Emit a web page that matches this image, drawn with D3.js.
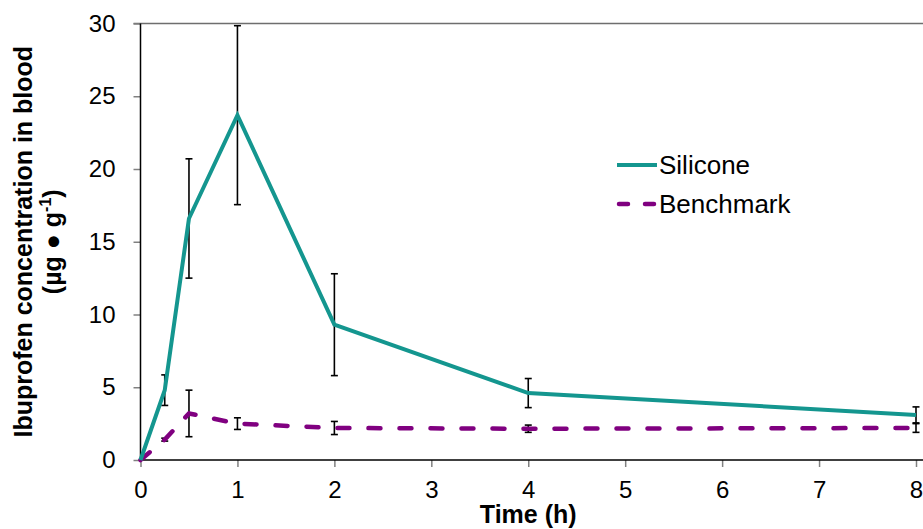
<!DOCTYPE html>
<html>
<head>
<meta charset="utf-8" />
<script src="https://d3js.org/d3.v7.min.js"></script>
<style>
    body { margin: 0px; background: #fff; }
    text { font-family: "Liberation Sans", Arial, sans-serif; }
    .tick text { fill: #000; font-size: 24px; }
    .tick line { stroke: #808080; stroke-width: 1.5; }
    .domain { display: none; }
</style>
</head>
<body>
<script>
// values
var times = [0, 0.25, 0.5, 1, 2, 4, 8];
var silicone = [0, 4.8, 16.6, 23.7, 9.3, 4.6, 3.1];
var siliconeErr = [0, 1.05, 4.1, 6.15, 3.5, 1.0, 0.55];
var benchmark = [0, 1.4, 3.2, 2.5, 2.2, 2.15, 2.2];
var benchmarkErr = [0, 0.1, 1.6, 0.4, 0.45, 0.25, 0.3];
var xTicks = [0, 1, 2, 3, 4, 5, 6, 7, 8];
var yTicks = [0, 5, 10, 15, 20, 25, 30];

var width = 923, height = 529;
var margin = {left: 140.5, right: 916, top: 23.5, bottom: 460};

var svg = d3.select("body").append("svg")
    .attr("width", width)
    .attr("height", height);

var x = d3.scaleLinear().domain([0, 8]).range([margin.left, margin.right]);
var y = d3.scaleLinear().domain([0, 30]).range([margin.bottom, margin.top]);

// top border line (gray)
svg.append("line")
    .attr("x1", margin.left - 7).attr("x2", width)
    .attr("y1", y(30)).attr("y2", y(30))
    .attr("stroke", "#6e6e6e").attr("stroke-width", 1.5);

// axes
svg.append("g")
    .attr("transform", "translate(0," + margin.bottom + ")")
    .call(d3.axisBottom(x).tickValues(xTicks).tickSize(7).tickPadding(14).tickFormat(d3.format("d")));

svg.append("g")
    .attr("transform", "translate(" + margin.left + ",0)")
    .call(d3.axisLeft(y).tickValues(yTicks).tickSize(7).tickPadding(18).tickFormat(d3.format("d")));

svg.append("line")
    .attr("x1", margin.left).attr("x2", width)
    .attr("y1", margin.bottom).attr("y2", margin.bottom)
    .attr("stroke", "#000").attr("stroke-width", 1.5);
svg.append("line")
    .attr("x1", margin.left).attr("x2", margin.left)
    .attr("y1", margin.top).attr("y2", margin.bottom)
    .attr("stroke", "#000").attr("stroke-width", 1.5);

// error bars
function errorBars(vals, errs) {
    var g = svg.append("g").attr("stroke", "#000").attr("stroke-width", 1.6);
    times.forEach(function(t, i) {
        if (errs[i] <= 0) return;
        var cx = x(t), y1 = y(vals[i] - errs[i]), y2 = y(vals[i] + errs[i]);
        g.append("line").attr("x1", cx).attr("x2", cx).attr("y1", y1).attr("y2", y2);
        g.append("line").attr("x1", cx - 3.5).attr("x2", cx + 3.5).attr("y1", y1).attr("y2", y1);
        g.append("line").attr("x1", cx - 3.5).attr("x2", cx + 3.5).attr("y1", y2).attr("y2", y2);
    });
}
errorBars(silicone, siliconeErr);
errorBars(benchmark, benchmarkErr);

var line = d3.line()
    .x(function(d) { return x(d[0]); })
    .y(function(d) { return y(d[1]); });

svg.append("path")
    .datum(times.map(function(t, i) { return [t, benchmark[i]]; }))
    .attr("d", line)
    .attr("fill", "none")
    .attr("stroke", "#800080")
    .attr("stroke-width", 4.5)
    .attr("stroke-linecap", "round")
    .attr("stroke-dasharray", "12 19");

svg.append("path")
    .datum(times.map(function(t, i) { return [t, silicone[i]]; }))
    .attr("d", line)
    .attr("fill", "none")
    .attr("stroke", "#14968f")
    .attr("stroke-width", 4);

// legend
var legend = svg.append("g");
legend.append("line")
    .attr("x1", 617).attr("x2", 657).attr("y1", 165).attr("y2", 165)
    .attr("stroke", "#14968f").attr("stroke-width", 4);
legend.append("text")
    .attr("x", 659).attr("y", 174)
    .style("font-size", "26px")
    .text("Silicone");
legend.append("line")
    .attr("x1", 619).attr("x2", 657).attr("y1", 204).attr("y2", 204)
    .attr("stroke", "#800080").attr("stroke-width", 4.5)
    .attr("stroke-linecap", "round")
    .attr("stroke-dasharray", "9 17");
legend.append("text")
    .attr("x", 659).attr("y", 213)
    .style("font-size", "26px")
    .text("Benchmark");

// axis titles
svg.append("text")
    .attr("x", x(4)).attr("y", 523)
    .attr("text-anchor", "middle")
    .style("font-size", "25px")
    .style("font-weight", "bold")
    .text("Time (h)");

var yTitle = svg.append("text")
    .attr("transform", "translate(32," + ((margin.top + margin.bottom) / 2) + ") rotate(-90)")
    .attr("text-anchor", "middle")
    .style("font-size", "25px")
    .style("font-weight", "bold");
yTitle.append("tspan").attr("x", 0).attr("y", 0).text("Ibuprofen concentration in blood");
var t2 = yTitle.append("tspan").attr("x", 0).attr("y", 29);
t2.append("tspan").text("(µg \u25CF g");
t2.append("tspan").attr("dy", -10).style("font-size", "16px").text("-1");
t2.append("tspan").attr("dy", 10).text(")");
</script>
</body>
</html>
